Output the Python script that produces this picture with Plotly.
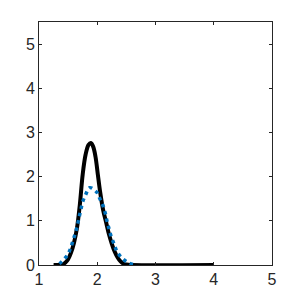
import plotly.graph_objects as go

# Black solid curve
black_x = [1.25, 1.40, 1.45, 1.50, 1.55, 1.60, 1.65, 1.70, 1.75, 1.80, 1.85, 1.89,
           1.93, 1.97, 2.01, 2.05, 2.10, 2.15, 2.20, 2.25, 2.30, 2.35, 2.40, 2.45,
           2.50, 2.60, 4.00]
black_y = [0.0, 0.01, 0.05, 0.13, 0.28, 0.50, 0.82, 1.35, 2.05, 2.50, 2.72, 2.76,
           2.68, 2.45, 2.05, 1.65, 1.25, 0.98, 0.70, 0.48, 0.30, 0.17, 0.08, 0.03,
           0.01, 0.0, 0.0]

# Blue dotted curve
blue_x = [1.35, 1.39, 1.49, 1.545, 1.585, 1.626, 1.66, 1.69, 1.72, 1.75, 1.80, 1.87,
          1.99, 2.045, 2.10, 2.14, 2.17, 2.20, 2.24, 2.29, 2.34, 2.43, 2.55, 2.68]
blue_y = [0.03, 0.076, 0.23, 0.39, 0.56, 0.73, 0.90, 1.09, 1.26, 1.43, 1.59, 1.75,
          1.65, 1.50, 1.34, 1.16, 0.98, 0.83, 0.64, 0.47, 0.30, 0.15, 0.04, 0.0]

x_ticks = [1, 2, 3, 4, 5]
y_ticks = [0, 1, 2, 3, 4, 5]

fig = go.Figure()
fig.add_trace(go.Scatter(x=black_x, y=black_y, mode="lines",
                         line=dict(color="black", width=4), line_shape="spline"))
fig.add_trace(go.Scatter(x=blue_x, y=blue_y, mode="lines",
                         line=dict(color="#0072BD", width=3.5, dash="3.5px,4px"),
                         line_shape="spline"))

axis_common = dict(showgrid=False, zeroline=False, showline=True, linecolor="#262626",
                   linewidth=1, mirror="ticks", ticks="inside", ticklen=3,
                   tickcolor="#262626",
                   tickfont=dict(family="Liberation Sans, Arial", size=16, color="#262626"))

fig.update_layout(
    width=292, height=292,
    margin=dict(l=31, r=28, t=14, b=33),
    paper_bgcolor="white", plot_bgcolor="white",
    showlegend=False,
    xaxis=dict(range=[1, 5], tickvals=x_ticks, ticktext=[str(v) for v in x_ticks], **axis_common),
    yaxis=dict(range=[0, 5.5], tickvals=y_ticks, ticktext=[str(v) for v in y_ticks], **axis_common),
)

fig.write_html("out.html")
